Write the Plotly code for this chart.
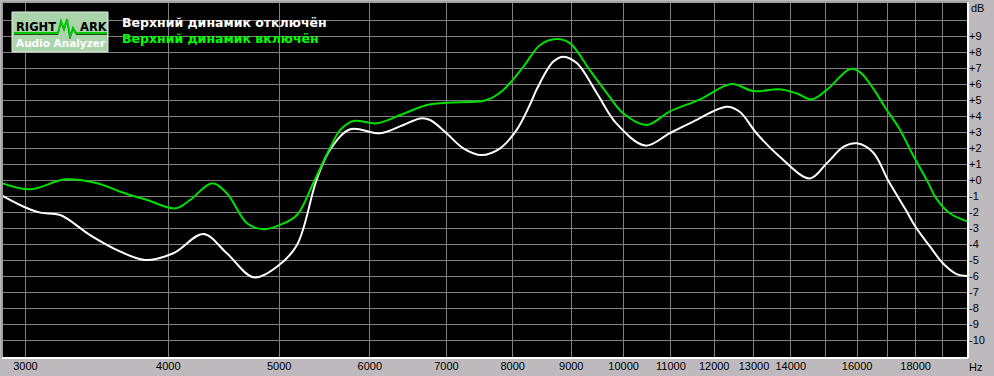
import math
import plotly.graph_objects as go

# ---- data ----
freq_off = [2862, 2990, 3091, 3218, 3417, 3609, 3819, 4040, 4293, 4500, 4747, 4977, 5182, 5390,
            5537, 5769, 6124, 6418, 6643, 6775, 7002, 7243, 7512, 7800, 8064, 8281, 8400, 8681,
            8862, 9106, 9477, 9854, 10450, 10968, 11504, 12306, 12633, 13066, 13692, 14548,
            15049, 15573, 15994, 16524, 17052, 17650, 17995, 18532, 19014, 19548, 19992]
db_off = [-0.98, -1.67, -2.04, -2.19, -3.44, -4.38, -5.0, -4.58, -3.38, -4.58, -6.08, -5.42, -4.06, 0.0,
          1.88, 3.17, 2.92, 3.44, 3.85, 3.75, 2.92, 1.98, 1.56, 1.98, 3.13, 4.7, 5.7, 7.4,
          7.71, 7.29, 5.42, 3.54, 2.15, 2.92, 3.65, 4.58, 4.27, 2.92, 1.46, 0.1,
          1.04, 2.08, 2.29, 1.72, -0.1, -1.88, -2.92, -4.17, -5.2, -5.88, -6.0]

freq_on = [2862, 3030, 3251, 3466, 3631, 3832, 4057, 4179, 4368, 4500, 4686, 4845, 5011, 5182, 5354,
           5537, 5654, 5804, 6087, 6379, 6730, 7000, 7591, 7850, 8173, 8454, 8739, 8980, 9339,
           9671, 9990, 10473, 10968, 11661, 12426, 12976, 13692, 14160, 14598, 15049, 15778,
           16098, 16524, 16944, 17412, 17868, 18470, 18760, 19280, 19992]
db_on = [-0.2, -0.58, 0.04, -0.2, -0.73, -1.25, -1.77, -1.25, -0.2, -0.83, -2.7, -3.08, -2.8, -2.19, -0.2,
         1.98, 3.13, 3.69, 3.54, 4.06, 4.69, 4.83, 5.0, 5.63, 7.08, 8.44, 8.81, 8.54, 6.88,
         5.42, 4.17, 3.44, 4.27, 5.04, 6.0, 5.56, 5.67, 5.42, 5.04, 5.63, 6.94,
         6.73, 5.73, 4.48, 3.23, 1.67, -0.21, -1.15, -2.08, -2.6]

name_off = "Верхний динамик отключён"
name_on = "Верхний динамик включён"

x_grid = [3000, 4000, 5000, 6000, 7000, 8000, 9000, 10000, 11000, 12000, 13000, 14000,
          15000, 16000, 17000, 18000, 19000]
x_labels = ["3000", "4000", "5000", "6000", "7000", "8000", "9000", "10000", "11000", "12000",
            "13000", "14000", "", "16000", "", "18000", ""]
y_grid = list(range(-10, 11))
y_labels = [("+%d" % v if v >= 0 else "%d" % v) for v in y_grid]
y_labels[-1] = ""

# ---- layout geometry (pixels) ----
W, H = 994, 376
PL, PT, PR, PB = 2, 2, 26, 18
PW, PH = W - PL - PR, H - PT - PB


def px(x):
    return (x - PL) / PW


def py(y):
    return 1 - (y - PT) / PH


BG = "#BDB9BD"
GRID = "#808080"

fig = go.Figure()
fig.add_trace(go.Scatter(x=freq_off, y=db_off, mode="lines", name=name_off,
                         line=dict(color="#FFFFFF", width=2, shape="spline", smoothing=1.0),
                         hoverinfo="skip"))
fig.add_trace(go.Scatter(x=freq_on, y=db_on, mode="lines", name=name_on,
                         line=dict(color="#00E000", width=2, shape="spline", smoothing=1.0),
                         hoverinfo="skip"))

shapes = []
# frame: gray top/left, white bottom/right
shapes.append(dict(type="line", xref="paper", yref="paper", x0=0, x1=1, y0=1, y1=1,
                   line=dict(color="#A0A0A0", width=2)))
shapes.append(dict(type="line", xref="paper", yref="paper", x0=0, x1=0, y0=0, y1=1,
                   line=dict(color="#A0A0A0", width=2)))
shapes.append(dict(type="line", xref="paper", yref="paper", x0=0, x1=1, y0=0, y1=0,
                   line=dict(color="#FFFFFF", width=2)))
shapes.append(dict(type="line", xref="paper", yref="paper", x0=1, x1=1, y0=0, y1=1,
                   line=dict(color="#FFFFFF", width=2)))

# logo box
shapes.append(dict(type="rect", xref="paper", yref="paper",
                   x0=px(12), x1=px(108), y0=py(52), y1=py(12),
                   fillcolor="#ACD4AC", line=dict(color="#E8E8E8", width=1), layer="above"))
wave = [(14, 33), (58, 33), (61, 21), (64, 29), (67, 19), (70, 37), (73, 28), (76, 33), (107, 33)]
shadow = "M " + " L ".join("%.5f,%.5f" % (px(a), py(b + 1.5)) for a, b in wave)
shapes.append(dict(type="path", xref="paper", yref="paper", path=shadow,
                   line=dict(color="#2A4A2A", width=1), layer="above"))
path = "M " + " L ".join("%.5f,%.5f" % (px(a), py(b)) for a, b in wave)
shapes.append(dict(type="path", xref="paper", yref="paper", path=path,
                   line=dict(color="#00C800", width=2), layer="above"))

annotations = []


def ann(text, x, y, color, size, family="Liberation Sans", xanchor="center", bold=False):
    if bold:
        text = "<b>" + text + "</b>"
    annotations.append(dict(text=text, x=px(x), y=py(y), xref="paper", yref="paper",
                            xanchor=xanchor, yanchor="middle", showarrow=False, borderpad=0,
                            font=dict(color=color, size=size, family=family)))


ann("RIGHT", 35.5, 27, "#000000", 11.5, family="DejaVu Sans", bold=True)
ann("ARK", 94, 27, "#000000", 11.5, family="DejaVu Sans", bold=True)
ann("Audio Analyzer", 61, 43, "#FFFFFF", 10.5, family="DejaVu Sans", bold=True)
ann(name_off, 121, 22, "#FFFFFF", 12.5, family="DejaVu Sans", xanchor="left", bold=True)
ann(name_on, 121, 38, "#00FF00", 12.5, family="DejaVu Sans", xanchor="left", bold=True)
ann("dB", 970, 8, "#000000", 11, xanchor="left")
ann("Hz", 968, 367, "#000000", 11, xanchor="left")

fig.update_layout(
    width=W, height=H,
    margin=dict(l=PL, r=PR, t=PT, b=PB, pad=0),
    paper_bgcolor=BG, plot_bgcolor="#000000",
    showlegend=False,
    shapes=shapes, annotations=annotations,
    xaxis=dict(type="log", range=[math.log10(2862), math.log10(20000)],
               tickvals=x_grid, ticktext=x_labels, showgrid=True, gridcolor=GRID, gridwidth=1,
               zeroline=False, showline=False, ticks="", fixedrange=True,
               tickfont=dict(family="Liberation Sans", size=11, color="#000000")),
    yaxis=dict(range=[-11.125, 11.125], side="right", tickvals=y_grid, ticktext=y_labels,
               showgrid=True, gridcolor=GRID, gridwidth=1, zeroline=False, showline=False,
               ticks="", fixedrange=True,
               tickfont=dict(family="Liberation Sans", size=11, color="#000000")),
)

fig.write_html("out.html")
